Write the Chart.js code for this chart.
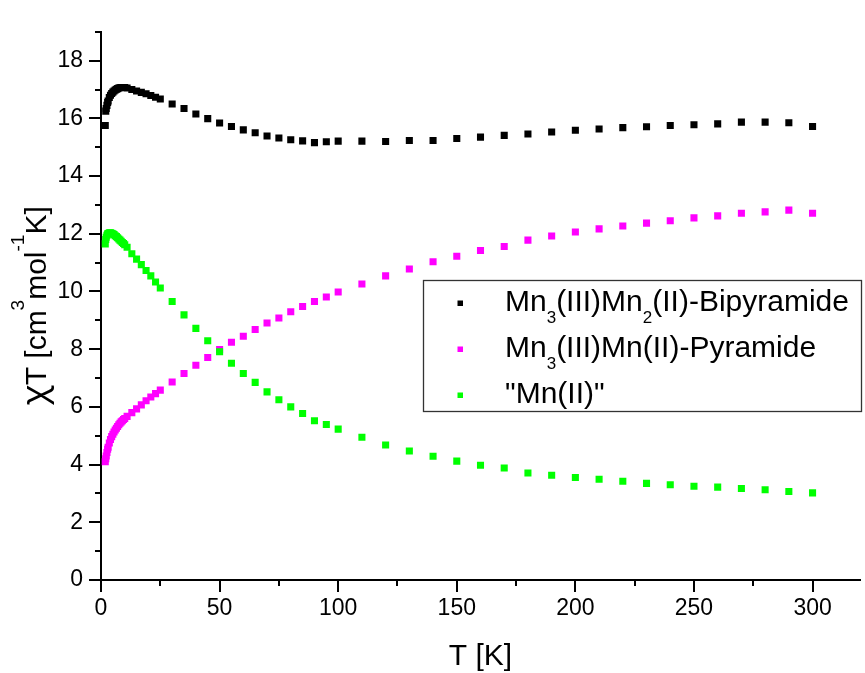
<!DOCTYPE html>
<html>
<head>
<meta charset="utf-8">
<script src="https://cdn.jsdelivr.net/npm/chart.js@4/dist/chart.umd.min.js"></script>
<style>
  html, body { margin: 0; padding: 0; background: #fff; }
  canvas { display: block; }
</style>
</head>
<body>
<canvas id="chart" width="865" height="673"></canvas>
<script>
// Temperatures of the susceptibility measurements (K)
const temperatures = [
  1.8, 2, 2.2, 2.5, 2.8, 3, 3.5, 4, 4.5, 5, 5.5, 6, 6.5, 7, 7.5, 8, 8.5, 9, 9.5, 10,
  11, 13, 15, 17, 19, 21, 23, 25,
  30, 35, 40, 45, 50, 55, 60, 65, 70, 75, 80, 85, 90, 95, 100,
  110, 120, 130, 140, 150, 160, 170, 180, 190, 200, 210, 220, 230, 240, 250, 260, 270, 280, 290, 300
];

// chi*T values (cm3 mol-1 K)
const bipyramide = [
  15.75, 16.25, 16.34, 16.45, 16.55, 16.60, 16.72, 16.80, 16.86, 16.91, 16.95, 16.98, 17.01, 17.03, 17.05, 17.06, 17.07, 17.07, 17.07, 17.07,
  17.05, 17.00, 16.95, 16.90, 16.85, 16.79, 16.73, 16.67,
  16.50, 16.34, 16.15, 15.99, 15.84, 15.72, 15.60, 15.50, 15.39, 15.32, 15.26, 15.22, 15.16, 15.19, 15.21,
  15.21, 15.20, 15.23, 15.23, 15.30, 15.35, 15.41, 15.46, 15.53, 15.59, 15.63, 15.68, 15.71, 15.75, 15.78, 15.81, 15.87, 15.87, 15.85, 15.72
];

const pyramide = [
  4.10, 4.20, 4.30, 4.42, 4.53, 4.60, 4.75, 4.87, 4.97, 5.05, 5.13, 5.20, 5.26, 5.32, 5.38, 5.43, 5.48, 5.52, 5.56, 5.60,
  5.67, 5.80, 5.93, 6.07, 6.21, 6.34, 6.46, 6.58,
  6.86, 7.16, 7.44, 7.71, 7.99, 8.24, 8.45, 8.68, 8.91, 9.08, 9.30, 9.48, 9.65, 9.81, 9.98,
  10.26, 10.54, 10.78, 11.03, 11.22, 11.42, 11.56, 11.78, 11.92, 12.06, 12.17, 12.27, 12.37, 12.45, 12.55, 12.62, 12.71, 12.76, 12.82, 12.71
];

const mnII = [
  11.65, 11.80, 11.88, 11.95, 11.99, 12.01, 12.03, 12.03, 12.02, 12.00, 11.97, 11.93, 11.90, 11.86, 11.82, 11.78, 11.74, 11.70, 11.66, 11.62,
  11.53, 11.31, 11.12, 10.93, 10.73, 10.54, 10.33, 10.12,
  9.65, 9.19, 8.72, 8.29, 7.91, 7.51, 7.16, 6.85, 6.52, 6.25, 6.00, 5.77, 5.52, 5.39, 5.23,
  4.95, 4.68, 4.47, 4.29, 4.12, 3.98, 3.88, 3.71, 3.63, 3.55, 3.49, 3.42, 3.35, 3.30, 3.25, 3.22, 3.17, 3.13, 3.07, 3.02
];

const seriesLabels = ['Mn₃(III)Mn₂(II)-Bipyramide', 'Mn₃(III)Mn(II)-Pyramide', '"Mn(II)"'];
const seriesColors = ['#000000', '#ff00ff', '#00ff00'];

const xTickValues = [0, 50, 100, 150, 200, 250, 300];
const yTickValues = [0, 2, 4, 6, 8, 10, 12, 14, 16, 18];

const xTitle = 'T [K]';
// y title as runs: [text, mode] with mode 0 = normal, 1 = superscript, 2 = greek letter
const yTitleRuns = [['χ', 2], ['T [cm', 0], ['3', 1], ['mol', 0], ['-1', 1], ['K]', 0]];

const FONT = '"Liberation Sans", Arial, sans-serif';
const GREEK_FONT = '"Noto Sans", "DejaVu Sans", sans-serif';

const toPoints = (ys) => temperatures.map((t, i) => ({ x: t, y: ys[i] }));

// Split a label into normal and subscript runs (unicode subscript digits)
function labelRuns(label) {
  const subs = '₀₁₂₃₄₅₆₇₈₉';
  const runs = [];
  for (const ch of label) {
    const k = subs.indexOf(ch);
    const mode = k >= 0 ? -1 : 0;
    const c = k >= 0 ? String(k) : ch;
    if (runs.length && runs[runs.length - 1][1] === mode) runs[runs.length - 1][0] += c;
    else runs.push([c, mode]);
  }
  return runs;
}

// Draw runs of text; mode 1 = superscript, -1 = subscript, 2 = greek
function drawRuns(ctx, runs, x, y, size, smallSize, supRaise, subDrop, measureOnly) {
  let cx = x;
  for (const [text, mode] of runs) {
    const s = mode === 2 ? size + 4 : (mode === 0 ? size : smallSize);
    ctx.font = s + 'px ' + (mode === 2 ? GREEK_FONT : FONT);
    const dy = mode === 1 ? -supRaise : (mode === -1 ? subDrop : 0);
    if (!measureOnly) ctx.fillText(text, cx, y + dy);
    cx += ctx.measureText(text).width;
  }
  return cx - x;
}

const tickMarks = {
  id: 'tickMarks',
  afterDraw(chart) {
    const { ctx, chartArea: a, scales: { x, y } } = chart;
    ctx.save();
    ctx.strokeStyle = '#000';
    ctx.lineWidth = 2;
    ctx.beginPath();
    for (let v = 0; v <= y.max; v += 1) {
      const p = Math.round(y.getPixelForValue(v));
      const len = v % 2 === 0 ? 12 : 6;
      ctx.moveTo(a.left - len, p);
      ctx.lineTo(a.left, p);
    }
    for (let v = 0; v <= x.max; v += 25) {
      const p = Math.round(x.getPixelForValue(v));
      const len = v % 50 === 0 ? 12 : 6;
      ctx.moveTo(p, a.bottom);
      ctx.lineTo(p, a.bottom + len);
    }
    ctx.stroke();
    ctx.restore();
  }
};

const yAxisTitle = {
  id: 'yAxisTitle',
  afterDraw(chart) {
    const { ctx, chartArea: a } = chart;
    ctx.save();
    ctx.fillStyle = '#000';
    ctx.textBaseline = 'alphabetic';
    ctx.textAlign = 'left';
    const w = drawRuns(ctx, yTitleRuns, 0, 0, 30, 19, 22, 0, true);
    ctx.translate(46, (a.top + a.bottom) / 2);
    ctx.rotate(-Math.PI / 2);
    drawRuns(ctx, yTitleRuns, -w / 2, 0, 30, 19, 22, 0, false);
    ctx.restore();
  }
};

const boxLegend = {
  id: 'boxLegend',
  afterDatasetsDraw(chart) {
    const { ctx } = chart;
    const left = 423.5, top = 280.5, right = 861.5, bottom = 411.5;
    ctx.save();
    ctx.fillStyle = '#fff';
    ctx.fillRect(left, top, right - left, bottom - top);
    ctx.strokeStyle = '#333';
    ctx.lineWidth = 1.3;
    ctx.strokeRect(left, top, right - left, bottom - top);
    ctx.textBaseline = 'alphabetic';
    ctx.textAlign = 'left';
    chart.data.datasets.forEach((ds, i) => {
      const rowY = 303 + i * 46;
      ctx.fillStyle = ds.backgroundColor;
      ctx.fillRect(457.5, rowY - 2.5, 5.5, 5.5);
      ctx.fillStyle = '#000';
      drawRuns(ctx, labelRuns(ds.label), 505, rowY + 8, 30, 17, 0, 12, false);
    });
    ctx.restore();
  }
};

const datasets = [bipyramide, pyramide, mnII].map((ys, i) => ({
  label: seriesLabels[i],
  data: toPoints(ys),
  backgroundColor: seriesColors[i],
  borderColor: seriesColors[i],
  borderWidth: 0,
  pointStyle: 'rect',
  pointRadius: 5,
  pointHoverRadius: 5,
  showLine: false,
  order: 2 - i
}));

new Chart(document.getElementById('chart'), {
  type: 'scatter',
  data: { datasets },
  plugins: [tickMarks, yAxisTitle, boxLegend],
  options: {
    responsive: false,
    animation: false,
    devicePixelRatio: 1,
    layout: { padding: { top: 14, right: 2, left: 0, bottom: 0 } },
    plugins: { legend: { display: false }, tooltip: { enabled: false } },
    scales: {
      x: {
        type: 'linear',
        min: 0,
        max: 320,
        afterBuildTicks: (s) => { s.ticks = xTickValues.map(v => ({ value: v })); },
        afterFit: (s) => { s.height = 93; },
        grid: { display: false, drawTicks: false },
        border: { display: true, color: '#000', width: 2 },
        ticks: { color: '#000', padding: 15, maxRotation: 0, font: { size: 23, family: FONT } },
        title: {
          display: true, text: xTitle, color: '#000',
          font: { size: 30, family: FONT, lineHeight: 1 },
          padding: { top: 0, bottom: 1 }
        }
      },
      y: {
        type: 'linear',
        min: 0,
        max: 19,
        afterBuildTicks: (s) => { s.ticks = yTickValues.map(v => ({ value: v })); },
        afterFit: (s) => { s.width = 101; },
        grid: { display: false, drawTicks: false },
        border: { display: true, color: '#000', width: 2 },
        ticks: { color: '#000', padding: 18, font: { size: 23, family: FONT } }
      }
    }
  }
});
</script>
</body>
</html>
